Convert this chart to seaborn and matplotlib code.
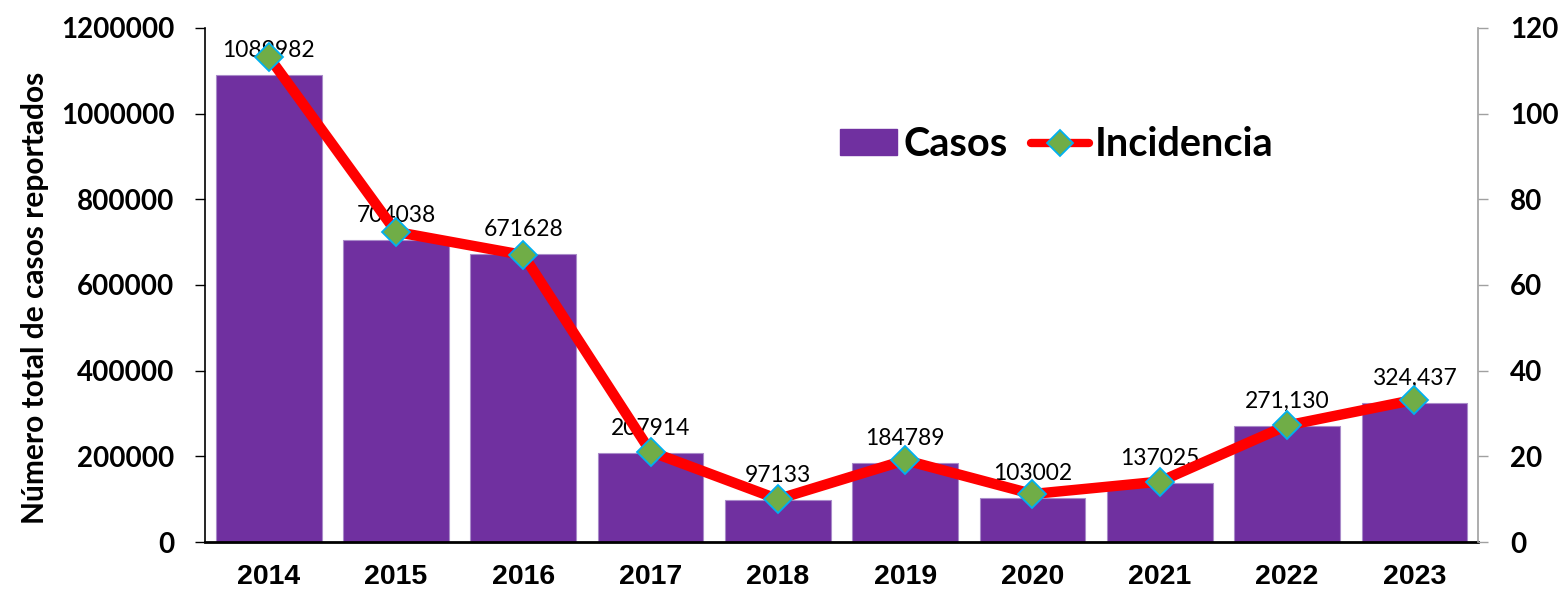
import matplotlib
matplotlib.use("Agg")
import matplotlib.pyplot as plt
import seaborn as sns
import pandas as pd
from matplotlib.patches import Patch
from matplotlib.lines import Line2D

years = ["2014", "2015", "2016", "2017", "2018", "2019", "2020", "2021", "2022", "2023"]
casos = [1089982, 704038, 671628, 207914, 97133, 184789, 103002, 137025, 271130, 324437]
casos_labels = ["1089982", "704038", "671628", "207914", "97133", "184789",
                "103002", "137025", "271,130", "324,437"]
incidencia = [113.3, 72.4, 67.0, 21.1, 10.0, 19.1, 11.2, 14.1, 27.2, 33.2]
left_ticks = [0, 200000, 400000, 600000, 800000, 1000000, 1200000]
right_ticks = [0, 20, 40, 60, 80, 100, 120]

df = pd.DataFrame({"year": years, "casos": casos, "incidencia": incidencia})

sns.set_style("white")
plt.rcParams["font.family"] = ["Lato", "DejaVu Sans"]
plt.rcParams["text.color"] = "black"
plt.rcParams["axes.labelcolor"] = "black"
plt.rcParams["xtick.color"] = "black"
plt.rcParams["ytick.color"] = "black"

PURPLE = "#7030A0"
fig = plt.figure(figsize=(15.63, 5.93), dpi=100)
ax = fig.add_axes([0.1312, 0.086, 0.8144, 0.8668])

sns.barplot(data=df, x="year", y="casos", order=years, color=PURPLE,
            saturation=1, width=0.83, edgecolor="#A98BC9", linewidth=0.8, ax=ax)
ax.set_ylim(0, 1200000)
ax.set_xlim(-0.5, len(years) - 0.5)
ax.set_yticks(left_ticks)
ax.set_yticklabels([str(t) for t in left_ticks], fontsize=20, fontweight="bold")
ax.set_xlabel("")
ax.set_ylabel("Número total de casos reportados", fontsize=21.5, fontweight="bold")
ax.yaxis.set_label_coords(-0.1225, 0.475)

# x ticks between categories
ax.set_xticks([i for i in range(len(years))])
ax.set_xticklabels(years, fontsize=20.5, fontweight="bold", family="Liberation Sans")
ax.tick_params(axis="x", length=0, pad=16)
ax.set_xticks([i - 0.5 for i in range(len(years) + 1)], minor=True)
ax.tick_params(axis="x", which="minor", length=8, width=1.5, direction="out", color="black")
ax.tick_params(axis="y", length=7, width=1, direction="out", color="black", pad=15)

ax.spines["top"].set_visible(False)
ax.spines["left"].set_color("black")
ax.spines["left"].set_linewidth(1.2)
ax.spines["bottom"].set_color("black")
ax.spines["bottom"].set_linewidth(2)
ax.spines["right"].set_visible(False)

for i, (v, lab) in enumerate(zip(casos, casos_labels)):
    ax.annotate(lab, xy=(i, v), xytext=(0, 13), textcoords="offset points",
                ha="center", va="baseline", fontsize=16.5, color="black")

ax2 = ax.twinx()
sns.pointplot(data=df, x="year", y="incidencia", order=years, color="#FF0000",
              markers="D", linestyles="-", ax=ax2)
ln = ax2.lines[0]
ln.set_linewidth(7.5)
ln.set_markersize(14)
ln.set_markerfacecolor("#70AD47")
ln.set_markeredgecolor("#00B0F0")
ln.set_markeredgewidth(1.3)
ln.set_solid_capstyle("round")
ln.set_solid_joinstyle("round")
ax2.set_ylim(0, 120)
ax2.set_xlim(-0.5, len(years) - 0.5)
ax2.set_yticks(right_ticks)
ax2.set_yticklabels([str(t) for t in right_ticks], fontsize=20, fontweight="bold")
ax2.set_ylabel("")
ax2.set_xlabel("")
ax2.tick_params(axis="y", length=7, width=1, direction="out", color="#A0A0A0", pad=16)
ax2.spines["top"].set_visible(False)
ax2.spines["left"].set_visible(False)
ax2.spines["bottom"].set_visible(False)
ax2.spines["right"].set_color("#A0A0A0")
ax2.spines["right"].set_linewidth(1.2)

handles = [Patch(facecolor=PURPLE, edgecolor=PURPLE),
           Line2D([0], [0], color="#FF0000", lw=6, marker="D", markersize=13,
                  markerfacecolor="#70AD47", markeredgecolor="#00B0F0", markeredgewidth=1.3,
                  solid_capstyle="round")]
leg = ax2.legend(handles, ["Casos", "Incidencia"], loc="center",
                 bbox_to_anchor=(0.669, 0.773), ncol=2, frameon=False,
                 prop={"size": 28.5, "weight": "bold"}, handlelength=1.45,
                 handleheight=0.62, columnspacing=0.6, handletextpad=0.15)

fig.savefig("out.png", dpi=100)
